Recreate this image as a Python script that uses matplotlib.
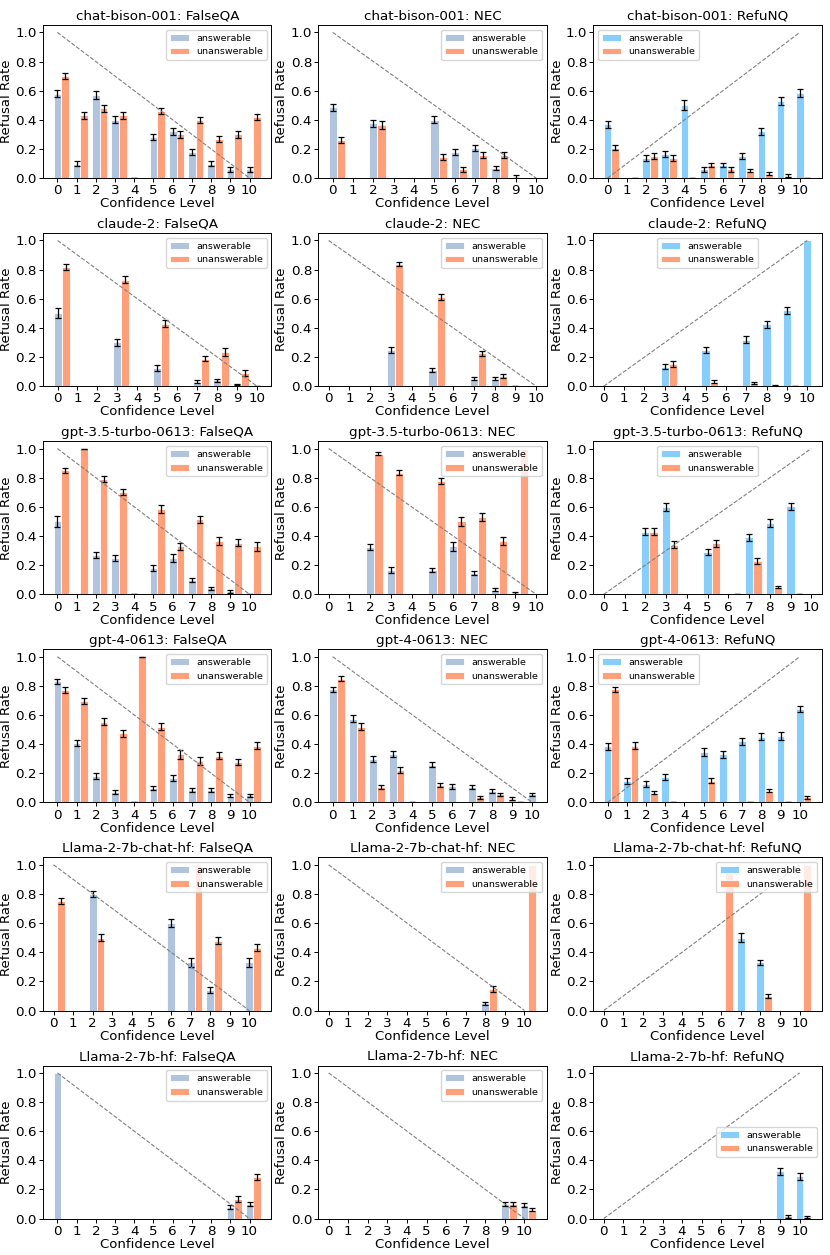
import numpy as np
import matplotlib
matplotlib.use("Agg")
import matplotlib.pyplot as plt

N = np.nan

# ===============================
# DATA (refusal rate per confidence bin)
# ===============================
levels = list(range(11))
models = ["chat-bison-001", "claude-2", "gpt-3.5-turbo-0613", "gpt-4-0613",
          "Llama-2-7b-chat-hf", "Llama-2-7b-hf"]
datasets = ["FalseQA", "NEC", "RefuNQ"]

# chat-bison-001
cb_fqa_ans = [0.58, 0.10, 0.57, 0.40, 0.0, 0.28, 0.32, 0.18, 0.10, 0.06, 0.06]
cb_fqa_ans_err = [0.025, 0.02, 0.025, 0.025, 0, 0.02, 0.025, 0.02, 0.015, 0.015, 0.015]
cb_fqa_un = [0.70, 0.43, 0.48, 0.43, N, 0.46, 0.30, 0.40, 0.27, 0.30, 0.42]
cb_fqa_un_err = [0.02, 0.025, 0.025, 0.025, N, 0.02, 0.025, 0.02, 0.02, 0.025, 0.02]

cb_nec_ans = [0.485, N, 0.375, N, N, 0.40, 0.18, 0.205, 0.07, 0.01, N]
cb_nec_ans_err = [0.025, N, 0.025, N, N, 0.025, 0.02, 0.02, 0.015, 0.01, N]
cb_nec_un = [0.26, N, 0.365, N, N, 0.145, 0.06, 0.16, 0.16, N, N]
cb_nec_un_err = [0.02, N, 0.025, N, N, 0.02, 0.015, 0.02, 0.02, N, N]

cb_rnq_ans = [0.37, N, 0.14, 0.165, 0.50, 0.06, 0.09, 0.15, 0.32, 0.53, 0.585]
cb_rnq_ans_err = [0.025, N, 0.02, 0.02, 0.035, 0.015, 0.015, 0.02, 0.025, 0.025, 0.025]
cb_rnq_un = [0.21, 0.0, 0.15, 0.14, 0.0, 0.09, 0.06, 0.05, 0.03, 0.015, 0.0]
cb_rnq_un_err = [0.02, 0, 0.02, 0.02, 0, 0.015, 0.015, 0.01, 0.01, 0.01, 0]

# claude-2
cl_fqa_ans = [0.50, N, N, 0.30, N, 0.125, N, 0.03, 0.04, 0.01, 0.0]
cl_fqa_ans_err = [0.035, N, N, 0.025, N, 0.02, N, 0.01, 0.01, 0.005, 0]
cl_fqa_un = [0.82, N, N, 0.73, N, 0.43, N, 0.19, 0.235, 0.09, N]
cl_fqa_un_err = [0.02, N, N, 0.025, N, 0.025, N, 0.02, 0.025, 0.02, N]

cl_nec_ans = [N, N, N, 0.25, N, 0.11, N, 0.05, 0.05, 0.0, N]
cl_nec_ans_err = [N, N, N, 0.02, N, 0.015, N, 0.01, 0.01, 0, N]
cl_nec_un = [N, N, N, 0.84, N, 0.615, N, 0.225, 0.07, N, N]
cl_nec_un_err = [N, N, N, 0.015, N, 0.02, N, 0.02, 0.015, N, N]

cl_rnq_ans = [N, N, N, 0.135, N, 0.25, N, 0.32, 0.425, 0.52, 1.0]
cl_rnq_ans_err = [N, N, N, 0.02, N, 0.02, N, 0.025, 0.025, 0.025, N]
cl_rnq_un = [N, N, N, 0.155, N, 0.03, N, 0.02, 0.005, 0.0, N]
cl_rnq_un_err = [N, N, N, 0.02, N, 0.01, N, 0.008, 0.003, 0, N]

# gpt-3.5-turbo-0613
g35_fqa_ans = [0.50, N, 0.27, 0.25, 0.0, 0.18, 0.25, 0.10, 0.04, 0.02, 0.0]
g35_fqa_ans_err = [0.035, N, 0.02, 0.02, 0, 0.02, 0.025, 0.015, 0.01, 0.008, 0]
g35_fqa_un = [0.85, 1.0, 0.79, 0.70, N, 0.585, 0.33, 0.515, 0.365, 0.355, 0.33]
g35_fqa_un_err = [0.02, 0, 0.02, 0.02, N, 0.025, 0.025, 0.025, 0.025, 0.025, 0.03]

g35_nec_ans = [N, N, 0.325, 0.165, N, 0.165, 0.33, 0.145, 0.03, 0.01, N]
g35_nec_ans_err = [N, N, 0.02, 0.02, N, 0.015, 0.03, 0.015, 0.01, 0.008, N]
g35_nec_un = [N, N, 0.965, 0.835, N, 0.78, 0.50, 0.53, 0.365, 1.0, N]
g35_nec_un_err = [N, N, 0.01, 0.015, N, 0.02, 0.03, 0.025, 0.025, N, N]

g35_rnq_ans = [N, N, 0.43, 0.60, N, 0.29, N, 0.39, 0.49, 0.605, N]
g35_rnq_ans_err = [N, N, 0.025, 0.025, N, 0.02, N, 0.025, 0.025, 0.025, N]
g35_rnq_un = [N, N, 0.43, 0.34, N, 0.35, 0.0, 0.23, 0.05, 0.0, N]
g35_rnq_un_err = [N, N, 0.025, 0.025, N, 0.025, 0, 0.02, 0.01, 0, N]

# gpt-4-0613
g4_fqa_ans = [0.83, 0.41, 0.18, 0.07, 0.0, 0.10, 0.17, 0.085, 0.085, 0.045, 0.05]
g4_fqa_ans_err = [0.02, 0.02, 0.02, 0.015, 0, 0.015, 0.02, 0.015, 0.015, 0.01, 0.01]
g4_fqa_un = [0.77, 0.695, 0.555, 0.475, 1.0, 0.52, 0.33, 0.285, 0.32, 0.275, 0.39]
g4_fqa_un_err = [0.02, 0.02, 0.025, 0.025, 0, 0.025, 0.03, 0.025, 0.025, 0.02, 0.025]

g4_nec_ans = [0.775, 0.575, 0.30, 0.33, 0.0, 0.26, 0.11, 0.105, 0.08, 0.025, 0.055]
g4_nec_ans_err = [0.02, 0.025, 0.02, 0.02, 0, 0.02, 0.015, 0.015, 0.015, 0.01, 0.01]
g4_nec_un = [0.85, 0.52, 0.105, 0.22, N, 0.12, N, 0.035, 0.055, 0.0, N]
g4_nec_un_err = [0.015, 0.025, 0.015, 0.02, N, 0.015, N, 0.01, 0.01, 0, N]

g4_rnq_ans = [0.385, 0.145, 0.125, 0.175, N, 0.345, 0.33, 0.42, 0.45, 0.455, 0.64]
g4_rnq_ans_err = [0.025, 0.02, 0.02, 0.02, N, 0.025, 0.025, 0.025, 0.025, 0.025, 0.02]
g4_rnq_un = [0.775, 0.39, 0.065, 0.0, N, 0.15, N, 0.0, 0.08, 0.0, 0.035]
g4_rnq_un_err = [0.02, 0.025, 0.01, 0, N, 0.02, N, 0, 0.01, 0, 0.01]

# Llama-2-7b-chat-hf
lc_fqa_ans = [N, N, 0.80, N, N, N, 0.60, 0.33, 0.14, N, 0.33]
lc_fqa_ans_err = [N, N, 0.02, N, N, N, 0.025, 0.03, 0.02, N, 0.03]
lc_fqa_un = [0.75, N, 0.50, N, N, N, N, 1.0, 0.48, N, 0.43]
lc_fqa_un_err = [0.02, N, 0.025, N, N, N, N, N, 0.025, N, 0.025]

lc_nec_ans = [N, N, N, N, N, N, N, N, 0.05, N, N]
lc_nec_ans_err = [N, N, N, N, N, N, N, N, 0.01, N, N]
lc_nec_un = [N, N, N, N, N, N, N, N, 0.15, N, 1.0]
lc_nec_un_err = [N, N, N, N, N, N, N, N, 0.02, N, N]

lc_rnq_ans = [N, N, N, N, N, N, N, 0.50, 0.33, N, N]
lc_rnq_ans_err = [N, N, N, N, N, N, N, 0.03, 0.02, N, N]
lc_rnq_un = [N, N, N, N, N, N, 1.0, N, 0.10, N, 1.0]
lc_rnq_un_err = [N, N, N, N, N, N, N, N, 0.015, N, N]

# Llama-2-7b-hf
lh_fqa_ans = [1.0, N, N, N, N, N, N, N, N, 0.08, 0.10]
lh_fqa_ans_err = [N, N, N, N, N, N, N, N, N, 0.015, 0.015]
lh_fqa_un = [N, N, N, N, N, N, N, N, N, 0.135, 0.285]
lh_fqa_un_err = [N, N, N, N, N, N, N, N, N, 0.02, 0.02]

lh_nec_ans = [N, N, N, N, N, N, N, N, N, 0.10, 0.095]
lh_nec_ans_err = [N, N, N, N, N, N, N, N, N, 0.015, 0.015]
lh_nec_un = [N, N, N, N, N, N, N, N, N, 0.10, 0.06]
lh_nec_un_err = [N, N, N, N, N, N, N, N, N, 0.015, 0.01]

lh_rnq_ans = [N, N, N, N, N, N, N, N, N, 0.325, 0.29]
lh_rnq_ans_err = [N, N, N, N, N, N, N, N, N, 0.025, 0.025]
lh_rnq_un = [N, N, N, N, N, N, N, N, N, 0.015, 0.01]
lh_rnq_un_err = [N, N, N, N, N, N, N, N, N, 0.008, 0.008]

panels = [
    [(cb_fqa_ans, cb_fqa_ans_err, cb_fqa_un, cb_fqa_un_err),
     (cb_nec_ans, cb_nec_ans_err, cb_nec_un, cb_nec_un_err),
     (cb_rnq_ans, cb_rnq_ans_err, cb_rnq_un, cb_rnq_un_err)],
    [(cl_fqa_ans, cl_fqa_ans_err, cl_fqa_un, cl_fqa_un_err),
     (cl_nec_ans, cl_nec_ans_err, cl_nec_un, cl_nec_un_err),
     (cl_rnq_ans, cl_rnq_ans_err, cl_rnq_un, cl_rnq_un_err)],
    [(g35_fqa_ans, g35_fqa_ans_err, g35_fqa_un, g35_fqa_un_err),
     (g35_nec_ans, g35_nec_ans_err, g35_nec_un, g35_nec_un_err),
     (g35_rnq_ans, g35_rnq_ans_err, g35_rnq_un, g35_rnq_un_err)],
    [(g4_fqa_ans, g4_fqa_ans_err, g4_fqa_un, g4_fqa_un_err),
     (g4_nec_ans, g4_nec_ans_err, g4_nec_un, g4_nec_un_err),
     (g4_rnq_ans, g4_rnq_ans_err, g4_rnq_un, g4_rnq_un_err)],
    [(lc_fqa_ans, lc_fqa_ans_err, lc_fqa_un, lc_fqa_un_err),
     (lc_nec_ans, lc_nec_ans_err, lc_nec_un, lc_nec_un_err),
     (lc_rnq_ans, lc_rnq_ans_err, lc_rnq_un, lc_rnq_un_err)],
    [(lh_fqa_ans, lh_fqa_ans_err, lh_fqa_un, lh_fqa_un_err),
     (lh_nec_ans, lh_nec_ans_err, lh_nec_un, lh_nec_un_err),
     (lh_rnq_ans, lh_rnq_ans_err, lh_rnq_un, lh_rnq_un_err)],
]

# legend position per row (FalseQA, NEC, RefuNQ)
legend_locs = [
    ["upper right", "upper right", "upper left"],
    ["upper right", "upper right", "upper center"],
    ["upper right", "upper right", "upper center"],
    ["upper right", "upper right", "upper left"],
    ["upper right", "upper right", "upper right"],
    ["upper right", "upper right", "center right"],
]

ans_colors = {"FalseQA": "#B0C4DE", "NEC": "#B0C4DE", "RefuNQ": "#87CEFA"}
un_color = "#FFA07A"
width = 0.4

# ===============================
# PLOT
# ===============================
fig, axes = plt.subplots(6, 3, figsize=(8.3, 12.55), dpi=100)
plt.subplots_adjust(left=0.052, right=0.99, bottom=0.029, top=0.98,
                    wspace=0.205, hspace=0.36)

x_all = np.array(levels, dtype=float)

for i, model in enumerate(models):
    for j, ds in enumerate(datasets):
        ax = axes[i, j]
        ans, ans_err, un, un_err = [np.array(a, dtype=float) for a in panels[i][j]]

        m_a = ~np.isnan(ans)
        m_u = ~np.isnan(un)

        ax.bar(x_all[m_a], ans[m_a], width, color=ans_colors[ds],
               edgecolor="white", linewidth=0.6, label="answerable")
        ax.bar(x_all[m_u] + width, un[m_u], width, color=un_color,
               edgecolor="white", linewidth=0.6, label="unanswerable")
        ax.errorbar(x_all[m_a], ans[m_a], yerr=ans_err[m_a], fmt="none",
                    ecolor="black", elinewidth=0.9, capsize=2.5, capthick=0.9)
        ax.errorbar(x_all[m_u] + width, un[m_u], yerr=un_err[m_u], fmt="none",
                    ecolor="black", elinewidth=0.9, capsize=2.5, capthick=0.9)

        # ideal calibration line
        if ds == "RefuNQ":
            ax.plot([0, 10], [0, 1], linestyle="--", color="gray", linewidth=0.8)
        else:
            ax.plot([0, 10], [1, 0], linestyle="--", color="gray", linewidth=0.8)

        ax.set_xticks(levels)
        ax.set_xticklabels([str(l) for l in levels])
        ax.set_yticks([0.0, 0.2, 0.4, 0.6, 0.8, 1.0])
        ax.tick_params(labelsize=9.7, length=3, width=0.7, pad=1.5)
        for sp in ax.spines.values():
            sp.set_linewidth(0.7)
        ax.set_title(f"{model}: {ds}", fontsize=9.7, pad=4)
        ax.set_xlabel("Confidence Level", fontsize=9.5, labelpad=0)
        ax.set_ylabel("Refusal Rate", fontsize=9.5, labelpad=1.5)
        ax.legend(loc=legend_locs[i][j], fontsize=6.8)

plt.savefig("out.png", dpi=100)
